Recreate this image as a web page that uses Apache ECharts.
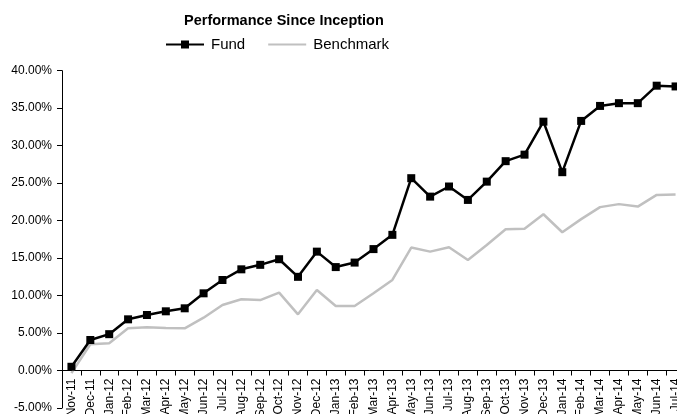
<!DOCTYPE html>
<html><head><meta charset="utf-8">
<script src="https://cdn.jsdelivr.net/npm/echarts@6/dist/echarts.min.js"></script>
<style>html,body{margin:0;padding:0;background:#fff}#c{width:677px;height:414px}</style>
</head><body><div id="c"></div>
<script>
var categories = ["Nov-11","Dec-11","Jan-12","Feb-12","Mar-12","Apr-12","May-12","Jun-12","Jul-12","Aug-12","Sep-12","Oct-12","Nov-12","Dec-12","Jan-13","Feb-13","Mar-13","Apr-13","May-13","Jun-13","Jul-13","Aug-13","Sep-13","Oct-13","Nov-13","Dec-13","Jan-14","Feb-14","Mar-14","Apr-14","May-14","Jun-14","Jul-14"];
var fund = [0.5,4.07,4.85,6.83,7.41,7.9,8.3,10.3,12.08,13.5,14.1,14.85,12.5,15.86,13.8,14.4,16.2,18.1,25.66,23.2,24.55,22.76,25.2,27.93,28.8,33.2,26.46,33.3,35.3,35.67,35.67,38.0,37.9];
var benchmark = [-0.35,3.5,3.65,5.63,5.77,5.67,5.63,7.05,8.75,9.5,9.4,10.4,7.5,10.75,8.6,8.6,10.3,12.08,16.4,15.86,16.45,14.75,16.75,18.85,18.9,20.85,18.45,20.2,21.8,22.2,21.87,23.43,23.5];
var yTicks = {min:-5, max:40, interval:5};
var FONT = "'Liberation Sans', Arial, sans-serif";
var GRID_TOP = 70.7, GRID_BOTTOM = 6, H = 414;
var pxPerUnit = (H - GRID_TOP - GRID_BOTTOM) / (yTicks.max - yTicks.min);
var zeroOffset = -(0 - yTicks.min) * pxPerUnit;
var chart = echarts.init(document.getElementById('c'), null, {renderer:'canvas'});
chart.setOption({
  animation:false,
  backgroundColor:'#fff',
  title:{text:'Performance Since Inception', left:184, top:13, padding:0, textStyle:{fontFamily:FONT, fontSize:14.5, fontWeight:'bold', color:'#000'}},
  legend:{top:37, left:165, padding:0, itemWidth:38, itemHeight:10, itemGap:22,
    textStyle:{fontFamily:FONT, fontSize:15, color:'#000', padding:[0,0,0,2]},
    data:['Fund', {name:'Benchmark', itemStyle:{opacity:0}}]},
  grid:{left:62, top:GRID_TOP, bottom:GRID_BOTTOM, width:623, containLabel:false,
    outerBounds:{left:0, top:0, right:-40, bottom:-80}},
  xAxis:{type:'category', data:categories, boundaryGap:true, position:'bottom', offset:zeroOffset,
    axisLine:{onZero:false, lineStyle:{color:'#000', width:1}},
    axisTick:{show:true, length:5, lineStyle:{color:'#000'}},
    axisLabel:{rotate:90, fontFamily:FONT, fontSize:12, color:'#000', margin:8, interval:0, hideOverlap:false},
    splitLine:{show:false}},
  yAxis:{type:'value', min:yTicks.min, max:yTicks.max, interval:yTicks.interval,
    axisLine:{show:true, lineStyle:{color:'#000', width:1}},
    axisTick:{show:true, length:5, lineStyle:{color:'#000'}},
    axisLabel:{fontFamily:FONT, fontSize:12, color:'#000', margin:10, formatter:function(v){return v.toFixed(2)+'%';}},
    splitLine:{show:false}},
  series:[
    {name:'Benchmark', type:'line', data:benchmark, symbol:'none', z:2,
      lineStyle:{color:'#c0c0c0', width:2.5}, itemStyle:{color:'#c0c0c0'}},
    {name:'Fund', type:'line', data:fund, symbol:'rect', symbolSize:8, z:3,
      lineStyle:{color:'#000', width:2.5}, itemStyle:{color:'#000'}}
  ]
});
</script></body></html>
